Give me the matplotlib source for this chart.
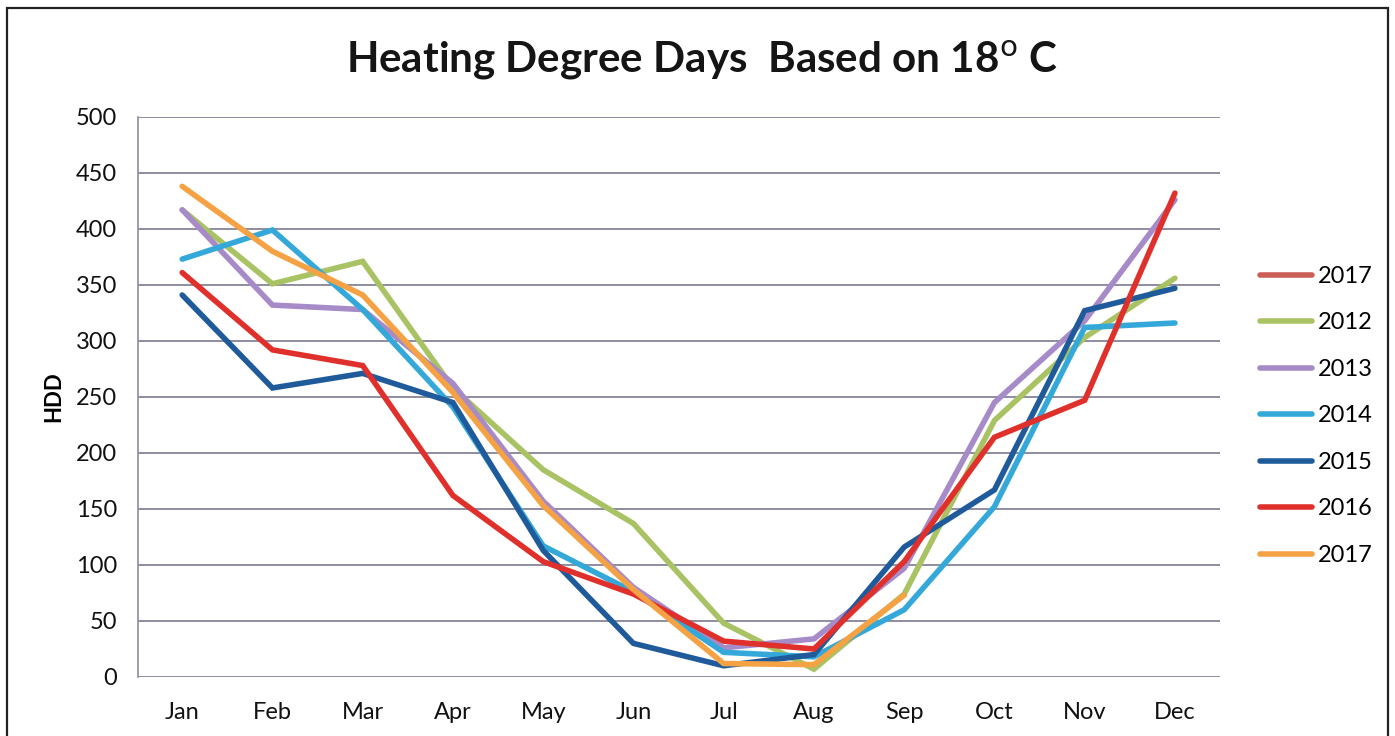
import numpy as np
import matplotlib
matplotlib.use('Agg')
import matplotlib.pyplot as plt
from matplotlib.patches import Rectangle

plt.rcParams['font.family'] = ['Lato', 'DejaVu Sans']

months = ['Jan', 'Feb', 'Mar', 'Apr', 'May', 'Jun',
          'Jul', 'Aug', 'Sep', 'Oct', 'Nov', 'Dec']
nan = np.nan

# values (HDD)
hdd_2017a = [nan] * 12
hdd_2012 = [417, 351, 371, 258, 185, 137, 48, 7, 74, 229, 303, 356]
hdd_2013 = [417, 332, 328, 262, 157, 80, 26, 34, 97, 245, 318, 426]
hdd_2014 = [373, 399, 328, 241, 117, 76, 22, 18, 60, 152, 312, 316]
hdd_2015 = [341, 258, 271, 245, 113, 30, 10, 20, 116, 167, 327, 347]
hdd_2016 = [361, 292, 278, 162, 103, 74, 32, 25, 103, 214, 247, 432]
hdd_2017 = [438, 380, 341, 254, 153, 78, 12, 11, 73, nan, nan, nan]

series_names = ['2017', '2012', '2013', '2014', '2015', '2016', '2017']
series_data = [hdd_2017a, hdd_2012, hdd_2013, hdd_2014, hdd_2015, hdd_2016, hdd_2017]
colors = ['#CC5E58', '#A9C263', '#A78BC9', '#34A9D9', '#1F5B9B', '#E0302B', '#F4A244']

fig = plt.figure(figsize=(13.95, 7.36), dpi=100)
ax = fig.add_axes([0.0989, 0.0802, 0.7757, 0.761])

x = np.arange(len(months))
for name, vals, col in zip(series_names, series_data, colors):
    ax.plot(x, vals, color=col, linewidth=4.0, label=name,
            solid_capstyle='round', solid_joinstyle='miter')

ax.set_xlim(-0.49, 11.5)
ax.set_ylim(0, 500)
ax.set_yticks(range(0, 501, 50))
ax.set_xticks(x)
ax.set_xticklabels(months)
ax.tick_params(axis='both', length=0, labelsize=17, colors='#111111')
ax.tick_params(axis='x', pad=18)
ax.tick_params(axis='y', pad=15)

ax.grid(axis='y', color='#8E8CA0', linewidth=1.4)
ax.set_axisbelow(True)
for s in ['top', 'right', 'bottom']:
    ax.spines[s].set_visible(False)
ax.spines['left'].set_color('#8E8CA0')
ax.spines['left'].set_linewidth(1.2)

ax.set_ylabel('HDD', fontsize=16, fontweight='bold', labelpad=8)

fig.text(0.503, 0.918, 'Heating Degree Days  Based on 18$^{\\mathrm{o}}$ C',
         ha='center', va='center', fontsize=30.3, fontweight='bold', color='#151515')

leg = ax.legend(loc='center left', bbox_to_anchor=(1.017, 0.466), frameon=False,
                fontsize=17, handlelength=2.2, labelspacing=1.08, handletextpad=0.25)

# outer frame of the chart
fig.patches.append(Rectangle((0.005, -0.05), 0.99, 1.039, transform=fig.transFigure,
                             fill=False, edgecolor='#222222', linewidth=1.6))

fig.savefig('out.png', dpi=100)
